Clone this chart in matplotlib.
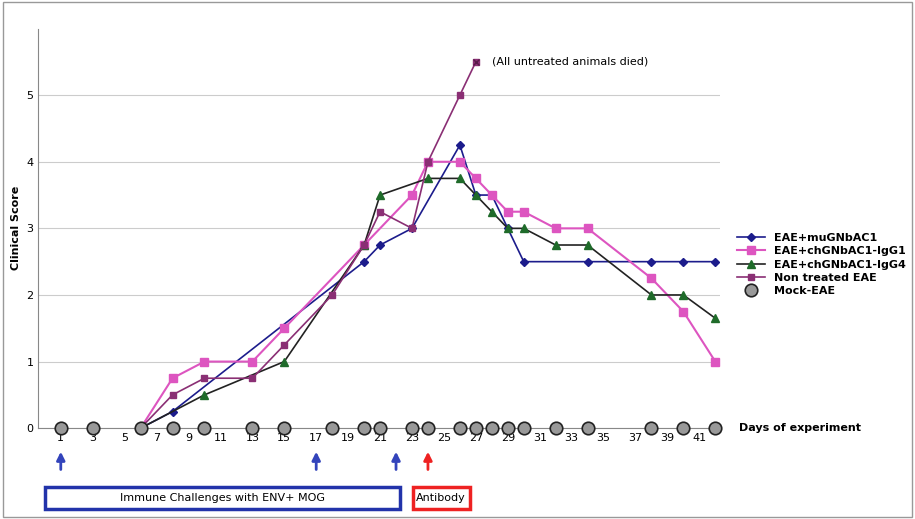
import numpy as np
import matplotlib.pyplot as plt
from matplotlib.patches import Rectangle

# data
mu_days = [6, 8, 20, 21, 23, 26, 27, 28, 29, 30, 34, 38, 40, 42]
mu_vals = [0, 0.25, 2.5, 2.75, 3.0, 4.25, 3.5, 3.5, 3.0, 2.5, 2.5, 2.5, 2.5, 2.5]

g1_days = [6, 8, 10, 13, 15, 20, 23, 24, 26, 27, 28, 29, 30, 32, 34, 38, 40, 42]
g1_vals = [0, 0.75, 1.0, 1.0, 1.5, 2.75, 3.5, 4.0, 4.0, 3.75, 3.5, 3.25, 3.25, 3.0, 3.0, 2.25, 1.75, 1.0]

g4_days = [6, 10, 15, 20, 21, 24, 26, 27, 28, 29, 30, 32, 34, 38, 40, 42]
g4_vals = [0, 0.5, 1.0, 2.75, 3.5, 3.75, 3.75, 3.5, 3.25, 3.0, 3.0, 2.75, 2.75, 2.0, 2.0, 1.65]

nt_days = [6, 8, 10, 13, 15, 18, 20, 21, 23, 24, 26, 27]
nt_vals = [0, 0.5, 0.75, 0.75, 1.25, 2.0, 2.75, 3.25, 3.0, 4.0, 5.0, 5.5]

mock_days = [1, 3, 6, 8, 10, 13, 15, 18, 20, 21, 23, 24, 26, 27, 28, 29, 30, 32, 34, 38, 40, 42]
mock_vals = [0] * len(mock_days)

x_ticks = list(range(1, 42, 2))
challenge_days = [1, 17, 22]
antibody_day = 24

fig = plt.figure(figsize=(9.15, 5.19), dpi=100)
ax = fig.add_axes([0.042, 0.175, 0.745, 0.77])

l1, = ax.plot(mu_days, mu_vals, '-D', color='#1c1c8c', ms=4, lw=1.2, label='EAE+muGNbAC1')
l2, = ax.plot(g1_days, g1_vals, '-s', color='#dd55c0', ms=6, lw=1.5, label='EAE+chGNbAC1-IgG1')
l3, = ax.plot(g4_days, g4_vals, '-^', color='#222222', mfc='#1f6b2a', mec='#1f6b2a', ms=6, lw=1.2, label='EAE+chGNbAC1-IgG4')
l4, = ax.plot(nt_days, nt_vals, '-s', color='#8a2f74', mfc='#8a2f74', ms=5, lw=1.2, label='Non treated EAE')
l5, = ax.plot(mock_days, mock_vals, 'o', color='#999999', mec='#222222', ms=9, mew=1.2, label='Mock-EAE', clip_on=False, zorder=5)
ax.plot(nt_days[-1], nt_vals[-1], 'x', color='#5a1a4a', ms=4)

ax.text(28, 5.5, '(All untreated animals died)', fontsize=8, va='center')

ax.set_xlim(-0.4, 42.3)
ax.set_ylim(0, 6)
ax.set_yticks(range(6))
ax.set_xticks(x_ticks)
ax.tick_params(labelsize=8, length=0)
ax.grid(axis='y', color='#cccccc', lw=0.8)
ax.set_axisbelow(True)
for s in ['top', 'right']:
    ax.spines[s].set_visible(False)
ax.spines['left'].set_color('#888888')
ax.spines['bottom'].set_color('#888888')
ax.set_ylabel('Clinical Score', fontsize=8, fontweight='bold')
ax.text(43.5, 0, 'Days of experiment', fontsize=8, fontweight='bold', va='center', clip_on=False)

for d in challenge_days:
    ax.annotate('', xy=(d, 0.135), xytext=(d, 0.09), xycoords=('data', 'figure fraction'),
                textcoords=('data', 'figure fraction'),
                arrowprops=dict(arrowstyle='-|>', color='#3344bb', lw=2, mutation_scale=12))
ax.annotate('', xy=(antibody_day, 0.135), xytext=(antibody_day, 0.09), xycoords=('data', 'figure fraction'),
            textcoords=('data', 'figure fraction'),
            arrowprops=dict(arrowstyle='-|>', color='#ee2222', lw=2, mutation_scale=12))

fig.patches.append(Rectangle((45 / 915, 10 / 519), 355 / 915, 22 / 519, transform=fig.transFigure,
                             fill=False, ec='#2233aa', lw=2.5))
fig.text(222 / 915, 21 / 519, 'Immune Challenges with ENV+ MOG', ha='center', va='center', fontsize=8)
fig.patches.append(Rectangle((413 / 915, 10 / 519), 57 / 915, 22 / 519, transform=fig.transFigure,
                             fill=False, ec='#ee2222', lw=2.5))
fig.text(441 / 915, 21 / 519, 'Antibody', ha='center', va='center', fontsize=8)

fig.legend(handles=[l1, l2, l3, l4, l5], loc='center left', bbox_to_anchor=(0.795, 0.49),
           frameon=False, fontsize=8, prop={'weight': 'bold', 'size': 8}, handlelength=2.5,
           labelspacing=0.3)

fig.patches.append(Rectangle((0.003, 0.003), 0.994, 0.994, transform=fig.transFigure,
                             fill=False, ec='#999999', lw=1))
fig.savefig('out.png', dpi=100)
